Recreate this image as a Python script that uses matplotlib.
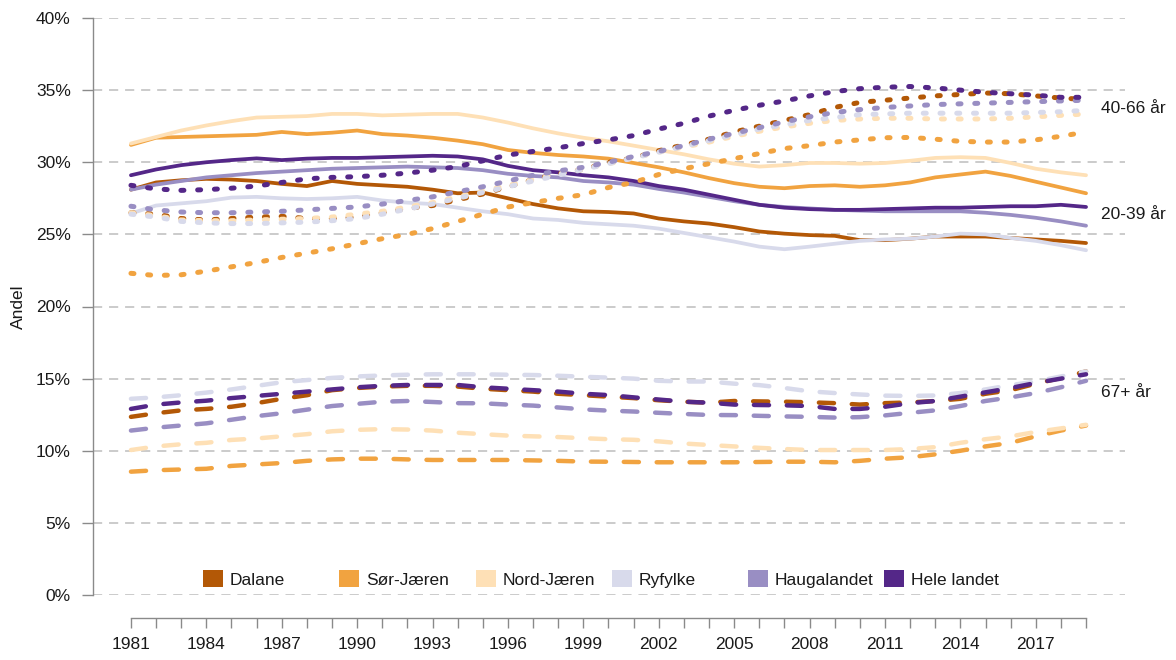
import matplotlib
matplotlib.use("Agg")
import matplotlib.pyplot as plt
from matplotlib.patches import Patch
from matplotlib.ticker import FuncFormatter

plt.rcParams['font.family'] = ['Liberation Sans', 'DejaVu Sans']

# ---------------- data ----------------
years = list(range(1981, 2020))
regions = ['Dalane', 'Sør-Jæren', 'Nord-Jæren', 'Ryfylke', 'Haugalandet', 'Hele landet']
colors = ['#b35806', '#f1a340', '#fee0b6', '#d8daeb', '#998ec3', '#542788']
group_labels = ['40-66 år', '20-39 år', '67+ år']
group_label_y = [33.75, 26.4, 14.07]
y_ticks = [0, 5, 10, 15, 20, 25, 30, 35, 40]

# 20-39 år (solid)
dalane_20_39 = [28.1, 28.6, 28.75, 28.85, 28.8, 28.7, 28.5, 28.35, 28.7, 28.5, 28.4, 28.3, 28.1, 27.85,
                27.9, 27.5, 27.1, 26.8, 26.6, 26.55, 26.45, 26.1, 25.9, 25.75, 25.5, 25.2, 25.05, 24.95,
                24.9, 24.6, 24.6, 24.7, 24.85, 24.85, 24.85, 24.75, 24.65, 24.55, 24.4]
sorjaeren_20_39 = [31.2, 31.7, 31.75, 31.8, 31.85, 31.9, 32.1, 31.95, 32.05, 32.2, 31.95, 31.85, 31.7, 31.5,
                   31.25, 30.85, 30.65, 30.5, 30.4, 30.25, 29.95, 29.65, 29.3, 28.9, 28.55, 28.3, 28.2, 28.35,
                   28.4, 28.3, 28.4, 28.6, 28.95, 29.15, 29.35, 29.05, 28.65, 28.25, 27.85]
nordjaeren_20_39 = [31.3, 31.75, 32.2, 32.55, 32.85, 33.1, 33.15, 33.2, 33.35, 33.35, 33.25, 33.3, 33.35, 33.35,
                    33.1, 32.75, 32.35, 32.0, 31.7, 31.45, 31.15, 30.85, 30.55, 30.2, 29.9, 29.7, 29.8, 29.95,
                    29.95, 29.9, 29.95, 30.1, 30.3, 30.35, 30.3, 29.95, 29.55, 29.3, 29.1]
ryfylke_20_39 = [26.45, 27.0, 27.15, 27.3, 27.55, 27.6, 27.5, 27.45, 27.5, 27.6, 27.35, 27.2, 27.1, 26.85,
                 26.6, 26.4, 26.1, 26.0, 25.8, 25.7, 25.6, 25.4, 25.1, 24.8, 24.5, 24.15, 23.97, 24.15,
                 24.35, 24.55, 24.65, 24.7, 24.85, 25.05, 25.0, 24.75, 24.55, 24.25, 23.9]
haugalandet_20_39 = [28.1, 28.45, 28.7, 28.95, 29.1, 29.25, 29.35, 29.45, 29.55, 29.6, 29.65, 29.7, 29.65, 29.6,
                     29.45, 29.2, 29.05, 28.95, 28.7, 28.6, 28.45, 28.15, 27.9, 27.6, 27.3, 27.05, 26.9, 26.8,
                     26.7, 26.65, 26.6, 26.6, 26.6, 26.6, 26.5, 26.35, 26.15, 25.9, 25.6]
helelandet_20_39 = [29.1, 29.5, 29.8, 30.0, 30.15, 30.27, 30.15, 30.25, 30.3, 30.3, 30.35, 30.4, 30.45, 30.4,
                    30.2, 29.75, 29.45, 29.3, 29.1, 28.95, 28.7, 28.35, 28.1, 27.75, 27.4, 27.05, 26.85, 26.75,
                    26.7, 26.7, 26.75, 26.8, 26.85, 26.85, 26.9, 26.95, 26.95, 27.05, 26.9]

# 40-66 år (dotted)
dalane_40_66 = [26.5, 26.4, 26.1, 26.0, 26.1, 26.2, 26.25, 26.1, 26.1, 26.2, 26.5, 26.8, 27.0, 27.4,
                27.8, 28.3, 28.8, 29.2, 29.5, 30.0, 30.3, 30.8, 31.2, 31.6, 32.1, 32.5, 32.9, 33.3,
                33.8, 34.15, 34.3, 34.45, 34.6, 34.7, 34.8, 34.75, 34.6, 34.45, 34.35]
sorjaeren_40_66 = [22.3, 22.15, 22.2, 22.45, 22.75, 23.05, 23.4, 23.7, 24.0, 24.35, 24.7, 25.0, 25.4, 25.9,
                   26.4, 26.9, 27.2, 27.5, 27.75, 28.25, 28.6, 29.15, 29.55, 29.9, 30.25, 30.6, 30.95, 31.15,
                   31.4, 31.55, 31.7, 31.72, 31.6, 31.45, 31.4, 31.4, 31.55, 31.8, 32.1]
nordjaeren_40_66 = [26.5, 26.3, 26.0, 25.95, 25.95, 26.0, 26.05, 26.1, 26.2, 26.4, 26.6, 26.9, 27.2, 27.6,
                    28.0, 28.4, 28.8, 29.2, 29.55, 29.9, 30.3, 30.7, 31.05, 31.4, 31.8, 32.15, 32.45, 32.7,
                    32.9, 33.0, 33.05, 33.05, 33.0, 33.0, 33.0, 33.05, 33.15, 33.25, 33.35]
ryfylke_40_66 = [26.4, 26.2, 25.9, 25.8, 25.75, 25.75, 25.8, 25.85, 25.95, 26.1, 26.4, 26.75, 27.1, 27.5,
                 27.9, 28.3, 28.7, 29.1, 29.5, 29.9, 30.3, 30.7, 31.1, 31.5, 31.9, 32.3, 32.6, 32.9,
                 33.1, 33.3, 33.35, 33.4, 33.4, 33.4, 33.4, 33.4, 33.45, 33.5, 33.6]
haugalandet_40_66 = [26.95, 26.7, 26.55, 26.5, 26.5, 26.55, 26.6, 26.7, 26.8, 26.9, 27.1, 27.35, 27.6, 27.95,
                     28.3, 28.7, 29.1, 29.4, 29.65, 30.0, 30.4, 30.75, 31.15, 31.6, 32.0, 32.4, 32.8, 33.15,
                     33.45, 33.65, 33.8, 33.9, 34.0, 34.05, 34.1, 34.15, 34.2, 34.25, 34.3]
helelandet_40_66 = [28.4, 28.15, 28.05, 28.1, 28.2, 28.35, 28.6, 28.85, 28.95, 29.0, 29.1, 29.25, 29.45, 29.7,
                    30.1, 30.5, 30.75, 31.0, 31.3, 31.55, 31.85, 32.3, 32.7, 33.2, 33.6, 33.95, 34.25, 34.6,
                    34.9, 35.1, 35.2, 35.25, 35.15, 35.0, 34.85, 34.75, 34.65, 34.5, 34.5]

# 67+ år (dashed)
dalane_67 = [12.35, 12.6, 12.8, 12.9, 13.05, 13.3, 13.6, 13.85, 14.2, 14.35, 14.45, 14.5, 14.5, 14.45,
             14.3, 14.2, 14.1, 13.95, 13.85, 13.75, 13.65, 13.5, 13.4, 13.33, 13.45, 13.42, 13.4, 13.36,
             13.3, 13.2, 13.3, 13.35, 13.45, 13.6, 13.95, 14.2, 14.65, 15.05, 15.5]
sorjaeren_67 = [8.55, 8.65, 8.7, 8.75, 8.95, 9.05, 9.15, 9.3, 9.4, 9.45, 9.45, 9.4, 9.36, 9.36,
                9.36, 9.36, 9.33, 9.3, 9.25, 9.24, 9.22, 9.2, 9.2, 9.2, 9.2, 9.22, 9.24, 9.24,
                9.2, 9.3, 9.45, 9.55, 9.75, 10.0, 10.3, 10.55, 11.0, 11.4, 11.75]
nordjaeren_67 = [10.05, 10.3, 10.45, 10.55, 10.75, 10.85, 11.0, 11.15, 11.35, 11.45, 11.5, 11.47, 11.4, 11.25,
                 11.15, 11.05, 11.0, 10.95, 10.87, 10.8, 10.76, 10.65, 10.5, 10.4, 10.3, 10.2, 10.12, 10.05,
                 10.05, 10.05, 10.05, 10.12, 10.25, 10.55, 10.8, 11.0, 11.3, 11.55, 11.8]
ryfylke_67 = [13.6, 13.7, 13.85, 14.03, 14.25, 14.5, 14.75, 14.9, 15.05, 15.15, 15.22, 15.27, 15.3, 15.3,
              15.3, 15.27, 15.25, 15.2, 15.13, 15.07, 15.0, 14.85, 14.8, 14.8, 14.65, 14.55, 14.35, 14.12,
              14.0, 13.9, 13.82, 13.8, 13.83, 14.0, 14.25, 14.55, 14.8, 15.15, 15.5]
haugalandet_67 = [11.4, 11.6, 11.75, 11.9, 12.15, 12.4, 12.6, 12.85, 13.1, 13.25, 13.4, 13.45, 13.38, 13.3,
                  13.29, 13.2, 13.13, 13.0, 12.87, 12.78, 12.72, 12.63, 12.55, 12.48, 12.47, 12.42, 12.38, 12.35,
                  12.3, 12.33, 12.45, 12.63, 12.8, 13.1, 13.45, 13.7, 14.0, 14.4, 14.85]
helelandet_67 = [12.9, 13.2, 13.35, 13.47, 13.65, 13.8, 13.95, 14.1, 14.25, 14.4, 14.5, 14.56, 14.56, 14.56,
                 14.4, 14.3, 14.2, 14.1, 13.95, 13.86, 13.7, 13.55, 13.4, 13.33, 13.2, 13.17, 13.15, 13.1,
                 12.9, 12.9, 13.05, 13.3, 13.45, 13.75, 14.05, 14.35, 14.7, 15.0, 15.3]

series_20_39 = [dalane_20_39, sorjaeren_20_39, nordjaeren_20_39, ryfylke_20_39, haugalandet_20_39, helelandet_20_39]
series_40_66 = [dalane_40_66, sorjaeren_40_66, nordjaeren_40_66, ryfylke_40_66, haugalandet_40_66, helelandet_40_66]
series_67 = [dalane_67, sorjaeren_67, nordjaeren_67, ryfylke_67, haugalandet_67, helelandet_67]

# ---------------- figure ----------------
W, H = 1176, 660
fig = plt.figure(figsize=(W / 100, H / 100), dpi=100)
ax = fig.add_axes([93 / W, 1 - 595 / H, (1125 - 93) / W, (595 - 18) / H])

FS = 12.5
txt_col = '#1a1a1a'
axis_col = '#8a8a8a'

for i in range(len(regions)):
    ax.plot(years, series_20_39[i], color=colors[i], lw=2.7, solid_capstyle='round', solid_joinstyle='round')
for i in range(len(regions)):
    ax.plot(years, series_40_66[i], color=colors[i], lw=3.6, linestyle=(0, (0.6, 2.75)),
            dash_capstyle='round')
for i in range(len(regions)):
    ax.plot(years, series_67[i], color=colors[i], lw=3.2, linestyle=(0, (3.4, 4.0)),
            dash_capstyle='round')

ax.set_xlim(1979.49, 2020.55)
ax.set_ylim(0, 40)

# grid
ax.set_yticks(y_ticks)
ax.yaxis.set_major_formatter(FuncFormatter(lambda v, p: f'{int(v)}%'))
ax.grid(axis='y', color='#bdbdbd', lw=1.1, linestyle=(0, (6, 4.5)))
ax.grid(axis='x', visible=False)
ax.set_axisbelow(True)

# spines
for s in ['top', 'right']:
    ax.spines[s].set_visible(False)
ax.spines['left'].set_color(axis_col)
ax.spines['left'].set_linewidth(1.0)
ax.spines['bottom'].set_color(axis_col)
ax.spines['bottom'].set_linewidth(1.0)
ax.spines['bottom'].set_position(('outward', 16.5))
ax.spines['bottom'].set_bounds(1981, 2019)

ax.set_xticks(years)
ax.set_xticklabels([str(y) if (y - 1981) % 3 == 0 else '' for y in years])
ax.tick_params(axis='x', direction='out', length=7.5, width=1.0, color=axis_col,
               labelsize=FS, labelcolor=txt_col, pad=6)
ax.tick_params(axis='y', direction='out', length=8, width=1.0, color=axis_col,
               labelsize=FS, labelcolor=txt_col, pad=8)

ax.set_ylabel('Andel', fontsize=FS, color=txt_col)
ax.yaxis.set_label_coords(-0.065, 0.5)

# group labels at the right
for lab, yv in zip(group_labels, group_label_y):
    ax.text(2019.6, yv, lab, fontsize=FS, color=txt_col, va='center', ha='left', clip_on=False)

# legend (one entry per region, evenly spaced)
legend_x = [203, 339, 476, 612, 748, 884]
for i, reg in enumerate(regions):
    lg = fig.legend(handles=[Patch(facecolor=colors[i], edgecolor='none')], labels=[reg],
                    loc='center left', bbox_to_anchor=(legend_x[i] / W, 1 - 579 / H),
                    frameon=False, fontsize=FS, handlelength=1.15, handleheight=1.15,
                    handletextpad=0.4, borderpad=0, borderaxespad=0)
    for t in lg.get_texts():
        t.set_color(txt_col)

fig.savefig('out.png', dpi=100)
